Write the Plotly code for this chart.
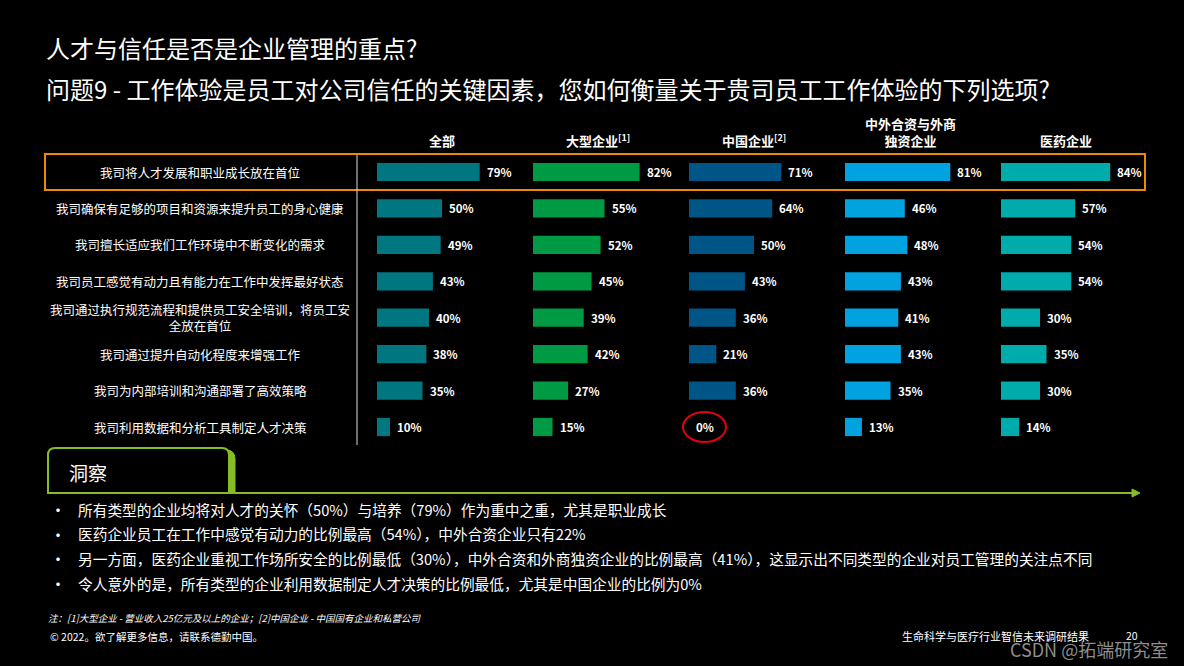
import plotly.graph_objects as go

W, H = 1184, 666

# ---------------- data ----------------
rows = [
    "我司将人才发展和职业成长放在首位",
    "我司确保有足够的项目和资源来提升员工的身心健康",
    "我司擅长适应我们工作环境中不断变化的需求",
    "我司员工感觉有动力且有能力在工作中发挥最好状态",
    "我司通过执行规范流程和提供员工安全培训，将员工安<br>全放在首位",
    "我司通过提升自动化程度来增强工作",
    "我司为内部培训和沟通部署了高效策略",
    "我司利用数据和分析工具制定人才决策",
]
groups = ["全部", "大型企业<sup>[1]</sup>", "中国企业<sup>[2]</sup>", "中外合资与外商<br>独资企业", "医药企业"]
all_vals = [79, 50, 49, 43, 40, 38, 35, 10]
large_vals = [82, 55, 52, 45, 39, 42, 27, 15]
china_vals = [71, 64, 50, 43, 36, 21, 36, 0]
foreign_vals = [81, 46, 48, 43, 41, 43, 35, 13]
pharma_vals = [84, 57, 54, 54, 30, 35, 30, 14]
series = [all_vals, large_vals, china_vals, foreign_vals, pharma_vals]
colors = ["#007681", "#009A44", "#005587", "#00A3E0", "#00ABAB"]

bullets = [
    "所有类型的企业均将对人才的关怀（50%）与培养（79%）作为重中之重，尤其是职业成长",
    "医药企业员工在工作中感觉有动力的比例最高（54%），中外合资企业只有22%",
    "另一方面，医药企业重视工作场所安全的比例最低（30%），中外合资和外商独资企业的比例最高（41%），这显示出不同类型的企业对员工管理的关注点不同",
    "令人意外的是，所有类型的企业利用数据制定人才决策的比例最低，尤其是中国企业的比例为0%",
]

GROUP_SPAN = 120  # data units per group
FONT = "Noto Sans CJK SC"


def px(x):
    return x / W


def py(y):
    return 1 - y / H


fig = go.Figure()
yidx = list(range(len(rows)))
for g, (vals, col) in enumerate(zip(series, colors)):
    fig.add_trace(go.Bar(
        orientation="h", y=yidx, x=vals, base=[g * GROUP_SPAN] * len(vals),
        width=0.5, marker=dict(color=col, line=dict(width=0)),
        showlegend=False, hoverinfo="skip",
    ))
    for i, v in enumerate(vals):
        fig.add_annotation(x=g * GROUP_SPAN + v, y=i, xref="x", yref="y",
                           text=f"<b>{v}%</b>", showarrow=False, xanchor="left",
                           xshift=5, font=dict(size=11.5, color="white"))

ann = []
# row labels
for i, r in enumerate(rows):
    ann.append(dict(x=px(200), y=i, xref="paper", yref="y", text=r, showarrow=False,
                    xanchor="center", yanchor="middle", align="center",
                    font=dict(size=12.5, color="white")))
# group headers
for g, name in enumerate(groups):
    ann.append(dict(x=g * GROUP_SPAN + 50, y=py(152), xref="x", yref="paper", text=f"<b>{name}</b>",
                    showarrow=False, xanchor="center", yanchor="bottom", align="center",
                    font=dict(size=13, color="white")))

# titles
ann.append(dict(x=px(44), y=py(47), xref="paper", yref="paper", text="人才与信任是否是企业管理的重点?",
                showarrow=False, xanchor="left", yanchor="middle", font=dict(size=24, color="white")))
ann.append(dict(x=px(44), y=py(88), xref="paper", yref="paper",
                text="问题9 - 工作体验是员工对公司信任的关键因素，您如何衡量关于贵司员工工作体验的下列选项?",
                showarrow=False, xanchor="left", yanchor="middle", font=dict(size=24, color="white")))

# insight
ann.append(dict(x=px(67), y=py(472), xref="paper", yref="paper", text="洞察", showarrow=False,
                xanchor="left", yanchor="middle", font=dict(size=19, color="white")))
for k, b in enumerate(bullets):
    yy = 509 + k * 24.7
    ann.append(dict(x=px(48), y=py(yy), xref="paper", yref="paper", text="•", showarrow=False,
                    xanchor="left", yanchor="middle", font=dict(size=16, color="white")))
    ann.append(dict(x=px(76), y=py(yy), xref="paper", yref="paper", text=b, showarrow=False,
                    xanchor="left", yanchor="middle", font=dict(size=14.7, color="white")))

# footer
ann.append(dict(x=px(46), y=py(618), xref="paper", yref="paper",
                text="<i>注：[1]大型企业 - 营业收入25亿元及以上的企业；[2]中国企业 - 中国国有企业和私营公司</i>",
                showarrow=False, xanchor="left", yanchor="middle", font=dict(size=9.5, color="white")))
ann.append(dict(x=px(48), y=py(636), xref="paper", yref="paper",
                text="© 2022。欲了解更多信息，请联系德勤中国。",
                showarrow=False, xanchor="left", yanchor="middle", font=dict(size=10.5, color="white")))
ann.append(dict(x=px(900), y=py(636), xref="paper", yref="paper",
                text="生命科学与医疗行业智信未来调研结果",
                showarrow=False, xanchor="left", yanchor="middle", font=dict(size=11, color="white")))
ann.append(dict(x=px(1124), y=py(635), xref="paper", yref="paper", text="20",
                showarrow=False, xanchor="left", yanchor="middle", font=dict(size=10.5, color="white")))
ann.append(dict(x=px(1008), y=py(649), xref="paper", yref="paper", text="CSDN @拓端研究室",
                showarrow=False, xanchor="left", yanchor="middle",
                font=dict(size=18, color="rgba(190,190,190,0.75)")))

for a in ann:
    fig.add_annotation(**a)


def P(x, y):
    return f"{px(x):.5f},{py(y):.5f}"


shapes = []
# orange highlight box
shapes.append(dict(type="rect", xref="paper", yref="paper", x0=px(45), x1=px(1145), y0=py(154), y1=py(190),
                   line=dict(color="#ED8B00", width=2), fillcolor="rgba(0,0,0,0)", layer="above"))
# vertical separator
shapes.append(dict(type="line", xref="paper", yref="paper", x0=px(357), x1=px(357), y0=py(155), y1=py(445),
                   line=dict(color="#dddddd", width=1)))
# red circle around 0%
shapes.append(dict(type="circle", xref="paper", yref="paper", x0=px(683), x1=px(726), y0=py(412), y1=py(442),
                   line=dict(color="#E3000F", width=2), layer="above"))
# insight tab shadow
green = "#86BC25"
sh = (f"M {P(53,492)} L {P(53,455)} Q {P(53,450)} {P(60,450)} L {P(226,450)} "
      f"Q {P(235,450)} {P(235,459)} L {P(235,492)} Z")
shapes.append(dict(type="path", xref="paper", yref="paper", path=sh, fillcolor=green,
                   line=dict(color=green, width=1)))
tab = (f"M {P(48,493)} L {P(48,455)} Q {P(48,448)} {P(55,448)} L {P(222,448)} "
       f"Q {P(229,448)} {P(229,455)} L {P(229,493)} Z")
shapes.append(dict(type="path", xref="paper", yref="paper", path=tab, fillcolor="black",
                   line=dict(color=green, width=2)))
# arrow line
shapes.append(dict(type="line", xref="paper", yref="paper", x0=px(48), x1=px(1134), y0=py(493), y1=py(493),
                   line=dict(color=green, width=2)))
tri = f"M {P(1132,489)} L {P(1140,493)} L {P(1132,497)} Z"
shapes.append(dict(type="path", xref="paper", yref="paper", path=tri, fillcolor=green,
                   line=dict(color=green, width=1)))

# axis ranges map data units onto the slide layout
x0_px, scale = 377, 1.3
row0_px, row_step = 172, 36.43

fig.update_layout(
    width=W, height=H, margin=dict(l=0, r=0, t=0, b=0),
    paper_bgcolor="black", plot_bgcolor="black",
    font=dict(family=FONT, color="white"),
    barmode="overlay",
    shapes=shapes,
    xaxis=dict(range=[(0 - x0_px) / scale, (W - x0_px) / scale], visible=False, fixedrange=True),
    yaxis=dict(range=[(H - row0_px) / row_step, (0 - row0_px) / row_step], visible=False, fixedrange=True),
)

fig.write_html("out.html")
